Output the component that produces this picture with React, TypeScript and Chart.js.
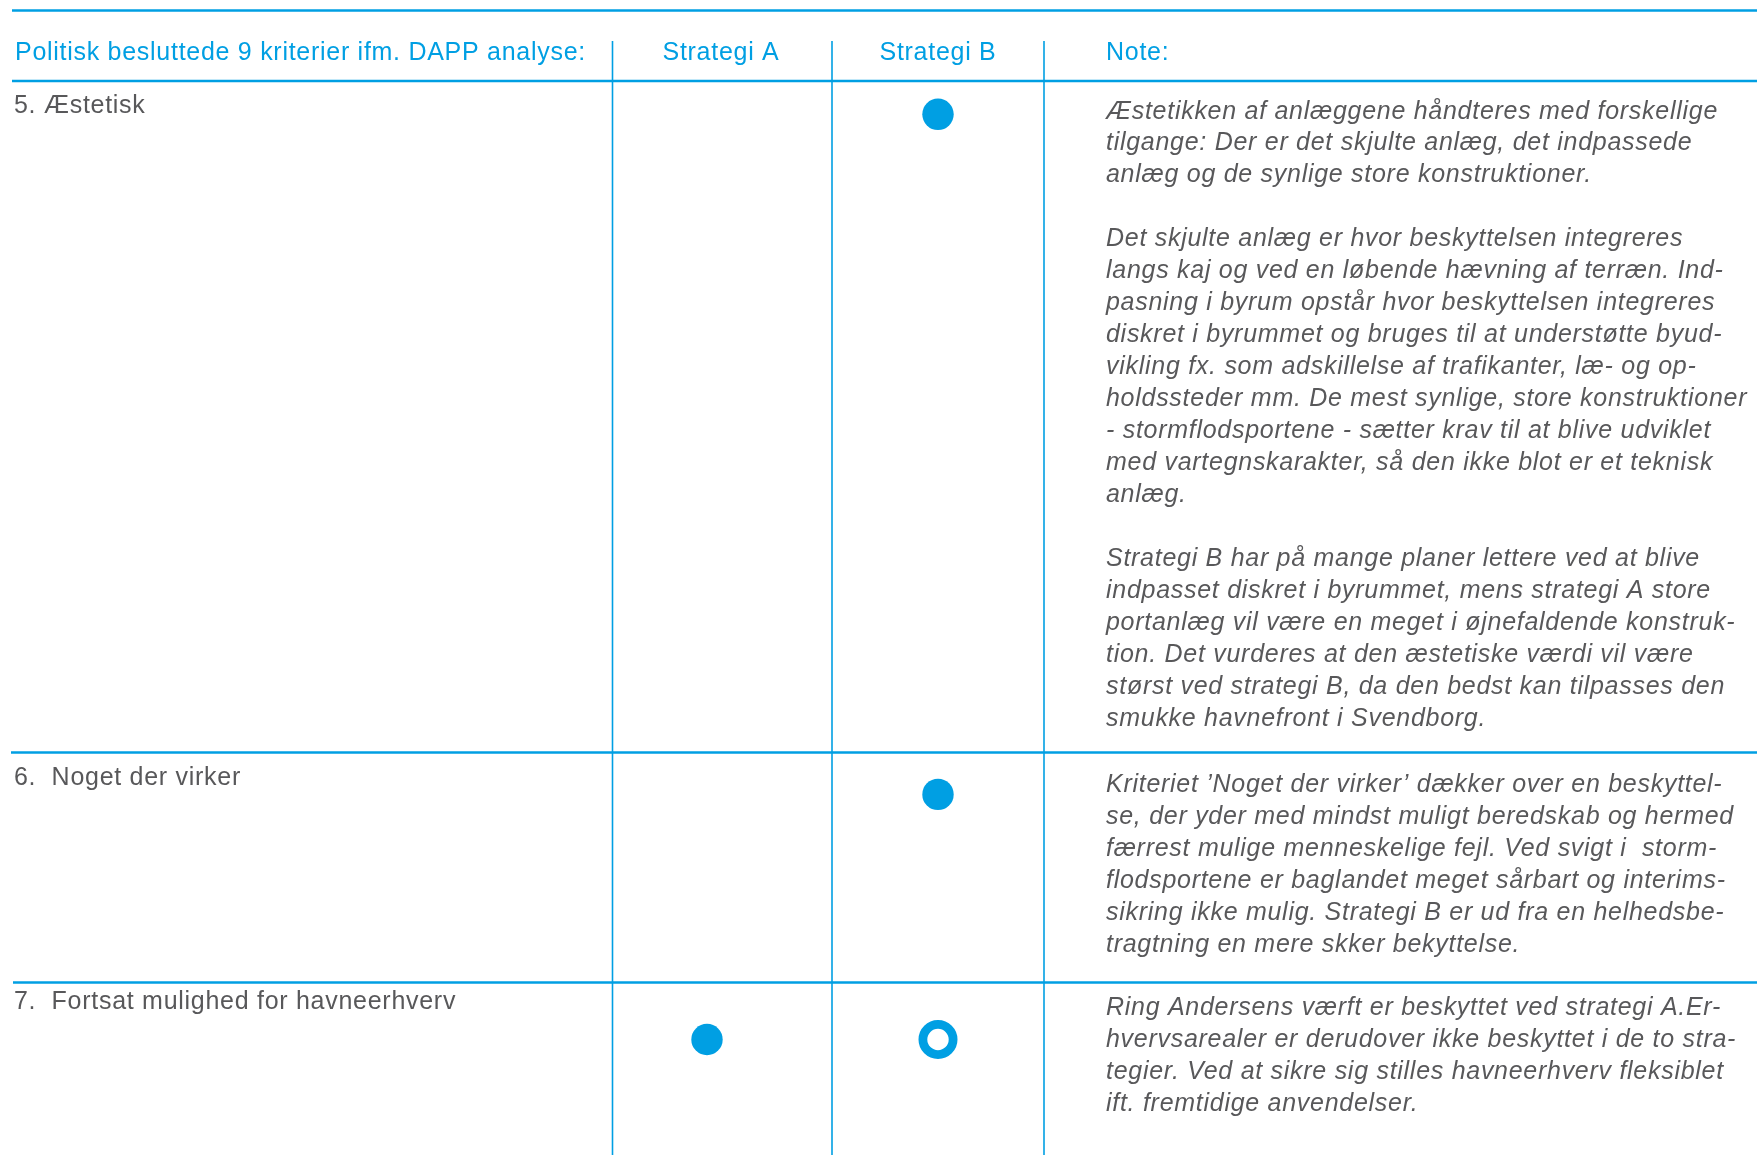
import React, { useEffect, useRef } from "react";
import { Chart, registerables } from "chart.js";

Chart.register(...registerables);

// ---------- data ----------
const headerTitle = "Politisk besluttede 9 kriterier ifm. DAPP analyse:";
const strategies = ["Strategi A", "Strategi B"];
const noteHeader = "Note:";
const criteria = [
  "5. Æstetisk",
  "6.  Noget der virker",
  "7.  Fortsat mulighed for havneerhverv",
];
// 1 = opfyldt (fyldt prik), 0.5 = delvist (ring), null = ikke markeret
const strategiA: (number | null)[] = [null, null, 1];
const strategiB: (number | null)[] = [1, 1, 0.5];

const note5 = [
  "Æstetikken af anlæggene håndteres med forskellige",
  "tilgange: Der er det skjulte anlæg, det indpassede",
  "anlæg og de synlige store konstruktioner.",
  "",
  "Det skjulte anlæg er hvor beskyttelsen integreres",
  "langs kaj og ved en løbende hævning af terræn. Ind-",
  "pasning i byrum opstår hvor beskyttelsen integreres",
  "diskret i byrummet og bruges til at understøtte byud-",
  "vikling fx. som adskillelse af trafikanter, læ- og op-",
  "holdssteder mm. De mest synlige, store konstruktioner",
  "- stormflodsportene - sætter krav til at blive udviklet",
  "med vartegnskarakter, så den ikke blot er et teknisk",
  "anlæg.",
  "",
  "Strategi B har på mange planer lettere ved at blive",
  "indpasset diskret i byrummet, mens strategi A store",
  "portanlæg vil være en meget i øjnefaldende konstruk-",
  "tion. Det vurderes at den æstetiske værdi vil være",
  "størst ved strategi B, da den bedst kan tilpasses den",
  "smukke havnefront i Svendborg.",
];
const note6 = [
  "Kriteriet \u2019Noget der virker\u2019 dækker over en beskyttel-",
  "se, der yder med mindst muligt beredskab og hermed",
  "færrest mulige menneskelige fejl. Ved svigt i  storm-",
  "flodsportene er baglandet meget sårbart og interims-",
  "sikring ikke mulig. Strategi B er ud fra en helhedsbe-",
  "tragtning en mere skker bekyttelse.",
];
const note7 = [
  "Ring Andersens værft er beskyttet ved strategi A.Er-",
  "hvervsarealer er derudover ikke beskyttet i de to stra-",
  "tegier. Ved at sikre sig stilles havneerhverv fleksiblet",
  "ift. fremtidige anvendelser.",
];
const notes = [note5, note6, note7];

// ---------- layout / style ----------
const W = 1757;
const H = 1155;
const BLUE = "#009fe3";
const GRAY = "#58585a";
const FONT_SIZE = 25;
const LETTER_SPACING = "0.72px";
const L = {
  left: 12,
  topLineY: 10.5,
  headerBaseline: 60,
  headerRuleY: 81,
  vLineTop: 41,
  colLines: [612.5, 832, 1044],
  rowRules: [752.5, 982.5],
  labelX: 14,
  noteX: 1106,
  lineH: 31.97,
  colCenters: [721, 938],
  dotX: [707, 938],
  rowDotY: [114.3, 794.4, 1039.5],
  labelBaseline: [113, 784.5, 1008.5],
  noteBaseline: [118.5, 791.8, 1014.8],
};

const tablePlugin = {
  id: "tableFrame",
  beforeDatasetsDraw(chart: any) {
    const ctx: CanvasRenderingContext2D = chart.ctx;
    ctx.save();
    ctx.strokeStyle = BLUE;
    const hline = (y: number, x0: number, w: number) => {
      ctx.lineWidth = w;
      ctx.beginPath();
      ctx.moveTo(x0, y);
      ctx.lineTo(W, y);
      ctx.stroke();
    };
    hline(L.topLineY, L.left, 2.6);
    hline(L.headerRuleY, L.left, 2.6);
    hline(L.rowRules[0], 11, 2.6);
    hline(L.rowRules[1], 13, 2.6);
    ctx.lineWidth = 1.6;
    L.colLines.forEach((x) => {
      ctx.beginPath();
      ctx.moveTo(x, L.vLineTop);
      ctx.lineTo(x, H);
      ctx.stroke();
    });

    (ctx as any).letterSpacing = LETTER_SPACING;
    ctx.textBaseline = "alphabetic";
    ctx.font = `${FONT_SIZE}px 'Liberation Sans', Arial, sans-serif`;
    ctx.fillStyle = BLUE;
    ctx.textAlign = "left";
    ctx.fillText(headerTitle, 15, L.headerBaseline);
    ctx.textAlign = "center";
    strategies.forEach((s, i) => ctx.fillText(s, L.colCenters[i], L.headerBaseline));
    ctx.textAlign = "left";
    ctx.fillText(noteHeader, L.noteX, L.headerBaseline);

    ctx.fillStyle = GRAY;
    criteria.forEach((c, i) => ctx.fillText(c, L.labelX, L.labelBaseline[i]));

    ctx.font = `italic ${FONT_SIZE}px 'Liberation Sans', Arial, sans-serif`;
    notes.forEach((lines, r) => {
      lines.forEach((ln, k) => {
        if (ln) ctx.fillText(ln, L.noteX, L.noteBaseline[r] + k * L.lineH);
      });
    });
    ctx.restore();
  },
};

function pointsFor(ratings: (number | null)[], col: number) {
  const pts: any[] = [];
  ratings.forEach((v, r) => {
    if (v != null) pts.push({ x: L.dotX[col], y: L.rowDotY[r], v });
  });
  return pts;
}

export default function App() {
  const ref = useRef<HTMLCanvasElement>(null);
  useEffect(() => {
    document.body.style.margin = "0";
    const canvas = ref.current!;
    const isFull = (c: any) => c.raw && c.raw.v === 1;
    const mk = (label: string, ratings: (number | null)[], col: number) => ({
      label,
      data: pointsFor(ratings, col),
      pointRadius: (c: any) => (isFull(c) ? 15.7 : 15.1),
      pointHoverRadius: (c: any) => (isFull(c) ? 15.7 : 15.1),
      pointBorderWidth: (c: any) => (isFull(c) ? 0 : 8.8),
      pointBackgroundColor: (c: any) => (isFull(c) ? BLUE : "#ffffff"),
      pointBorderColor: BLUE,
      showLine: false,
      clip: false,
    });
    const chart = new Chart(canvas, {
      type: "scatter",
      data: {
        datasets: [mk(strategies[0], strategiA, 0), mk(strategies[1], strategiB, 1)],
      },
      options: {
        animation: false,
        responsive: false,
        maintainAspectRatio: false,
        devicePixelRatio: 1,
        layout: { padding: 0, autoPadding: false },
        events: [],
        plugins: { legend: { display: false }, tooltip: { enabled: false } },
        scales: {
          x: { type: "linear", min: 0, max: W, display: false },
          y: { type: "linear", min: 0, max: H, reverse: true, display: false },
        },
      },
      plugins: [tablePlugin],
    } as any);
    return () => chart.destroy();
  }, []);
  return (
    <div style={{ width: W, height: H, background: "#fff" }}>
      <canvas ref={ref} width={W} height={H} style={{ display: "block", width: W, height: H }} />
    </div>
  );
}
